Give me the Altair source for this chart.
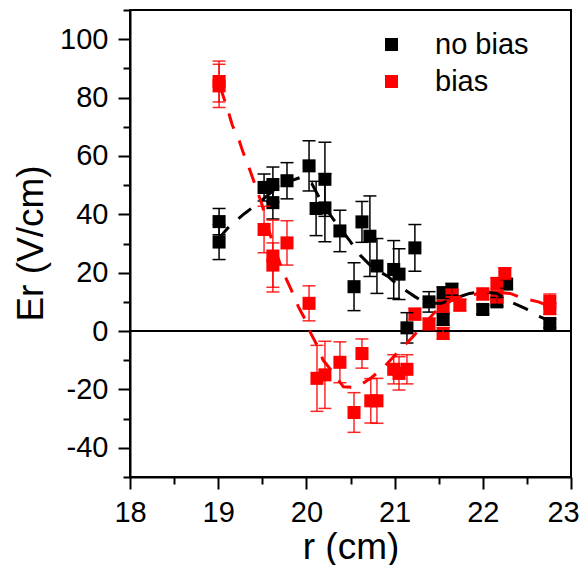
import altair as alt
import pandas as pd

# ---------------- data ----------------
nb_r = [19.01, 19.01, 19.52, 19.62, 19.62, 19.78, 20.03, 20.11, 20.21, 20.21,
        20.38, 20.54, 20.63, 20.72, 20.80, 20.99, 21.05, 21.14, 21.23, 21.39,
        21.55, 21.55, 21.65, 22.00, 22.16, 22.27, 22.76]
nb_er = [37.5, 30.5, 49.2, 50.2, 44.0, 51.5, 56.6, 42.0, 52.0, 42.2,
         34.3, 15.2, 37.4, 32.5, 22.3, 21.1, 19.5, 1.1, 28.5, 10.0,
         13.1, 4.0, 14.3, 7.4, 10.0, 16.1, 2.6]
nb_err = [4.5, 6.0, 4.6, 6.0, 5.6, 6.2, 8.6, 9.3, 12.7, 11.6,
          7.1, 8.2, 7.0, 13.8, 9.4, 9.9, 8.7, 5.2, 8.0, 3.5,
          2.0, 2.0, 2.0, 1.5, 1.5, 1.5, 1.5]

b_r = [19.01, 19.01, 19.52, 19.62, 19.62, 19.78, 20.03, 20.12, 20.21, 20.38,
       20.54, 20.63, 20.73, 20.80, 20.99, 21.05, 21.14, 21.23, 21.39, 21.55,
       21.55, 21.65, 21.74, 22.00, 22.16, 22.16, 22.25, 22.76, 22.76]
b_er = [85.5, 84.0, 34.8, 25.7, 22.6, 30.2, 9.5, -16.2, -15.0, -10.7,
        -27.9, -7.7, -23.9, -23.9, -13.1, -14.5, -13.1, 5.8, 2.4, -0.8,
        8.5, 12.3, 8.9, 12.7, 16.3, 11.7, 19.7, 10.2, 7.7]
b_err = [7.0, 7.4, 8.0, 12.3, 7.6, 7.6, 6.0, 11.3, 11.5, 7.0,
         6.8, 5.0, 7.6, 7.7, 5.0, 5.7, 5.0, 2.0, 2.0, 2.0,
         2.0, 2.0, 2.0, 2.0, 2.0, 2.0, 2.0, 2.5, 2.0]

fit_nb_r = [19.0, 19.13, 19.3, 19.44, 19.6, 19.78, 19.93, 20.06, 20.17, 20.3,
            20.4, 20.49, 20.61, 20.74, 20.93, 21.06, 21.23, 21.3, 21.4, 21.53,
            21.68, 21.85, 22.0, 22.16, 22.31, 22.48, 22.63, 22.76]
fit_nb_er = [31.5, 36.0, 40.3, 43.5, 47.5, 51.0, 52.6, 50.6, 44.3, 38.5,
             34.6, 31.0, 26.0, 22.0, 18.6, 15.2, 11.8, 10.5, 9.5, 9.5,
             11.2, 12.9, 13.5, 12.9, 10.0, 7.8, 5.1, 3.5]

fit_b_r = [19.02, 19.06, 19.11, 19.16, 19.23, 19.28, 19.34, 19.4, 19.5, 19.56,
           19.62, 19.66, 19.7, 19.76, 19.83, 19.91, 19.98, 20.05, 20.12, 20.19,
           20.25, 20.42, 20.57, 20.74, 20.89, 21.04, 21.19, 21.36, 21.46, 21.68,
           21.78, 21.93, 22.06, 22.31, 22.46, 22.63, 22.76]
fit_b_er = [84.0, 80.2, 75.7, 70.5, 66.0, 61.4, 56.8, 51.7, 43.0, 36.0,
            30.0, 26.6, 23.2, 18.6, 14.0, 8.3, 4.3, -0.8, -4.8, -10.0,
            -12.2, -19.1, -19.3, -15.9, -12.0, -7.1, -2.5, 3.2, 6.6, 11.2,
            11.8, 12.7, 13.5, 12.9, 11.2, 10.0, 8.5]

x_major = [18, 19, 20, 21, 22, 23]
x_minor = [18.5, 19.5, 20.5, 21.5, 22.5]
y_major = [-40, -20, 0, 20, 40, 60, 80, 100]
y_minor = [-50, -30, -10, 10, 30, 50, 70, 90, 110]

# ---------------- frames ----------------
nb = pd.DataFrame({"r": nb_r, "er": nb_er, "err": nb_err, "series": "no bias"})
b = pd.DataFrame({"r": b_r, "er": b_er, "err": b_err, "series": "bias"})
for d in (nb, b):
    d["lo"] = d["er"] - d["err"]
    d["hi"] = d["er"] + d["err"]
pts = pd.concat([nb, b], ignore_index=True)
fit_nb = pd.DataFrame({"r": fit_nb_r, "er": fit_nb_er})
fit_b = pd.DataFrame({"r": fit_b_r, "er": fit_b_er})

FONT = "Liberation Sans"

xscale = alt.Scale(domain=[18, 23], nice=False, zero=False)
yscale = alt.Scale(domain=[-50, 110], nice=False, zero=False)

xaxis = alt.Axis(
    orient="bottom",
    values=x_major,
    labelExpr="'' + datum.value",
    tickSize=12,
    labelPadding=9,
    labelOffset={"condition": {"test": "datum.value === 23", "value": -8}, "value": 0},
    title="r (cm)",
    titleFontSize=37,
    titleFontWeight="normal",
    titleFont=FONT,
    titleBaseline="alphabetic",
    titleY=81,
    titleX=220.5,
    titleAlign="center",
    grid=False,
    labelFlush=False,
    labelOverlap=False,
)
xaxis_minor = alt.Axis(
    orient="bottom", values=x_minor, tickSize=7, labels=False, domain=False,
    title=None, grid=False,
)
yaxis = alt.Axis(
    orient="left",
    values=y_major,
    labelExpr="'' + datum.value",
    tickSize=12,
    labelPadding=10,
    title="Er (V/cm)",
    titleFontSize=37,
    titleFontWeight="normal",
    titleFont=FONT,
    titleAngle=270,
    titleBaseline="alphabetic",
    titleX=-88,
    titleY=233,
    titleAlign="center",
    grid=False,
    labelFlush=False,
    labelOverlap=False,
)
yaxis_minor = alt.Axis(
    orient="left", values=y_minor, tickSize=7, labels=False, domain=False,
    title=None, grid=False,
)

NX = alt.X("r:Q", scale=xscale, axis=None)

zero = alt.Chart(pts).mark_rule(color="black", strokeWidth=2).encode(
    y=alt.datum(0, type="quantitative", scale=yscale, axis=None)
)

minor_ticks = alt.Chart(pts).mark_point(opacity=0).encode(
    x=alt.X("r:Q", scale=xscale, axis=xaxis_minor),
    y=alt.Y("er:Q", scale=yscale, axis=yaxis_minor),
)


def errbars(df, color, op):
    base = alt.Chart(df)
    bars = base.mark_rule(color=color, strokeWidth=1.5, opacity=op).encode(
        x=NX, y=alt.Y("lo:Q", scale=yscale, axis=None), y2="hi:Q"
    )
    cap_lo = base.mark_tick(color=color, orient="horizontal", size=13,
                            thickness=1.5, opacity=op).encode(
        x=NX, y=alt.Y("lo:Q", scale=yscale, axis=None))
    cap_hi = base.mark_tick(color=color, orient="horizontal", size=13,
                            thickness=1.5, opacity=op).encode(
        x=NX, y=alt.Y("hi:Q", scale=yscale, axis=None))
    return [bars, cap_lo, cap_hi]


squares = alt.Chart(pts).mark_square(size=170, opacity=1, strokeWidth=0).encode(
    x=alt.X("r:Q", scale=xscale, axis=xaxis),
    y=alt.Y("er:Q", scale=yscale, axis=yaxis),
    color=alt.Color(
        "series:N",
        scale=alt.Scale(domain=["no bias", "bias"], range=["black", "#ff0000"]),
        legend=alt.Legend(
            title=None,
            orient="none",
            legendX=247,
            legendY=20,
            symbolType="square",
            symbolSize=170,
            symbolStrokeWidth=0,
            labelFontSize=29,
            labelFont=FONT,
            labelColor="black",
            labelOffset=29,
            rowPadding=7,
            padding=0,
        ),
    ),
    order=alt.Order("series:N", sort="descending"),
)

line_nb = alt.Chart(fit_nb).mark_line(color="black", strokeWidth=3,
                                      strokeDash=[16, 13]).encode(
    x=NX, y=alt.Y("er:Q", scale=yscale, axis=None))
line_b = alt.Chart(fit_b).mark_line(color="#ff0000", strokeWidth=3,
                                    strokeDash=[16, 13]).encode(
    x=NX, y=alt.Y("er:Q", scale=yscale, axis=None))

chart = alt.layer(
    squares, minor_ticks, zero, *errbars(nb, "black", 1.0),
    *errbars(b, "#ff0000", 0.85), line_nb, line_b
).resolve_axis(
    x="independent", y="independent"
).properties(
    width=441, height=467,
    autosize=alt.AutoSizeParams(type="none"),
    padding={"left": 122, "top": 2, "right": 9, "bottom": 88},
    background="white",
).configure_view(
    stroke="black", strokeWidth=2
).configure_axis(
    labelFont=FONT, labelFontSize=29, labelColor="black",
    tickColor="black", tickWidth=2, domainColor="black", domainWidth=2,
    titleColor="black",
)

chart.save("out.html", embed_options={"renderer": "svg", "actions": False})
